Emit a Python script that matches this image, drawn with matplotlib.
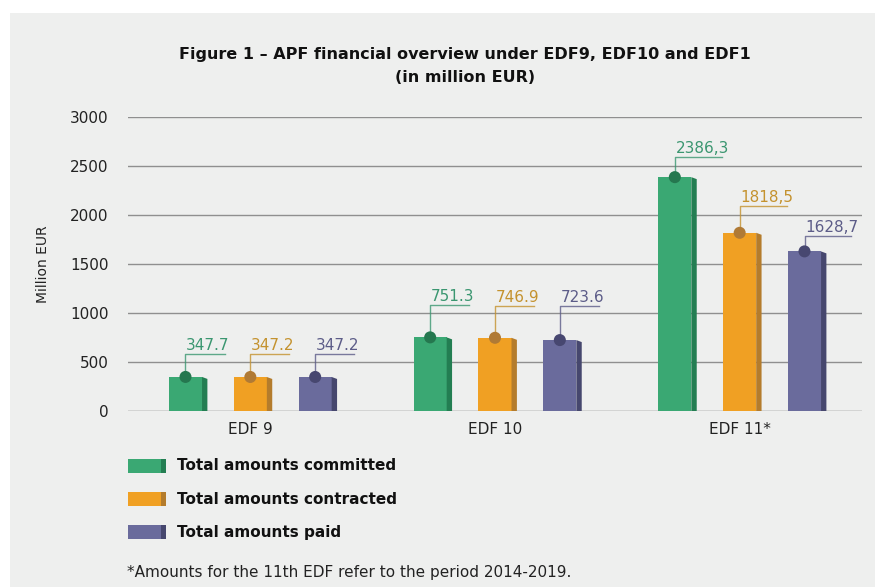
import matplotlib.pyplot as plt
from matplotlib.patches import Rectangle, Polygon
import numpy as np

# data
groups = ["EDF 9", "EDF 10", "EDF 11*"]
committed = [347.7, 751.3, 2386.3]
contracted = [347.2, 746.9, 1818.5]
paid = [347.2, 723.6, 1628.7]
committed_labels = ["347.7", "751.3", "2386,3"]
contracted_labels = ["347.2", "746.9", "1818,5"]
paid_labels = ["347.2", "723.6", "1628,7"]
series_names = ["Total amounts committed", "Total amounts contracted", "Total amounts paid"]

# leader line heights (px) per series, per group
LEADER_PX = [[23, 32, 20], [23, 32, 27], [23, 34, 15]]

FACE = ["#3aa873", "#f0a023", "#6a6b9c"]
SIDE = ["#237e52", "#b47c2c", "#46476e"]
DOT = ["#25774f", "#b07a35", "#474770"]
LBL = ["#3a9670", "#c4922e", "#5c5c88"]
BG = "#eeefee"

fig = plt.figure(figsize=(8.75, 5.87), dpi=100)
fig.patch.set_facecolor("white")
fig.patches.append(Rectangle((10 / 875, 0), 1, 1 - 13 / 587, transform=fig.transFigure,
                             facecolor=BG, edgecolor="none", zorder=-10))

ax = fig.add_axes([128 / 875, 1 - 411 / 587, 734 / 875, 294 / 587])
ax.set_facecolor("none")
ax.set_xlim(-0.5, 2.5)
ax.set_ylim(0, 3000)
ax.set_yticks(np.arange(0, 3001, 500))
for y in np.arange(0, 3001, 500):
    ax.axhline(y, color="#8f8f8f" if y else "#666666", lw=1.0, zorder=0)
for s in ax.spines.values():
    s.set_visible(False)
ax.tick_params(axis="y", length=0, pad=14, labelsize=11, colors="#222222")
ax.tick_params(axis="x", length=0, pad=8, labelsize=11, colors="#222222")
ax.set_xticks(range(len(groups)))
ax.set_xticklabels(groups)
ax.set_ylabel("Million EUR", fontsize=10, color="#222222", labelpad=14)

x = np.arange(len(groups))
offsets = [-0.265, 0.0, 0.265]
width = 0.135
depth = 0.022
px = 3000 / 294  # data units per pixel (y)

for k, (vals, labs) in enumerate(zip([committed, contracted, paid],
                                     [committed_labels, contracted_labels, paid_labels])):
    xs = x + offsets[k]
    ax.bar(xs, vals, width=width, color=FACE[k], zorder=3)
    for g, (xi, v, lab) in enumerate(zip(xs, vals, labs)):
        xr = xi + width / 2
        ax.add_patch(Polygon([(xr, 0), (xr, v), (xr + depth, v - 2 * px), (xr + depth, 0)],
                             closed=True, facecolor=SIDE[k], edgecolor="none", zorder=3))
        top = v + LEADER_PX[k][g] * px
        ax.plot([xi, xi, xi + 0.032 * len(lab)], [v, top, top], color=LBL[k], lw=1.0,
                zorder=4, alpha=0.8)
        ax.scatter([xi], [v], s=75, color=DOT[k], zorder=5, edgecolors="none")
        ax.text(xi + 0.003, top + 1 * px, lab, color=LBL[k], fontsize=11,
                ha="left", va="bottom", zorder=5)

fig.text(465 / 875, 1 - 55 / 587, "Figure 1 – APF financial overview under EDF9, EDF10 and EDF1",
         ha="center", va="center", fontsize=11.5, fontweight="bold", color="#111111")
fig.text(465 / 875, 1 - 78 / 587, "(in million EUR)",
         ha="center", va="center", fontsize=11.5, fontweight="bold", color="#111111")

# legend
for k, name in enumerate(series_names):
    yc = 466 + 33 * k
    y0 = 1 - (yc + 7) / 587
    fig.patches.append(Rectangle((128 / 875, y0), 33 / 875, 14 / 587,
                                 transform=fig.transFigure, facecolor=FACE[k],
                                 edgecolor="none"))
    fig.patches.append(Rectangle((161 / 875, y0), 5 / 875, 14 / 587,
                                 transform=fig.transFigure, facecolor=SIDE[k],
                                 edgecolor="none"))
    fig.text(177 / 875, 1 - yc / 587, name, ha="left", va="center", fontsize=11,
             fontweight="bold", color="#111111")

fig.text(127 / 875, 1 - 572 / 587, "*Amounts for the 11th EDF refer to the period 2014-2019.",
         ha="left", va="center", fontsize=11, color="#222222")

fig.savefig("out.png", dpi=100, facecolor=fig.get_facecolor())
